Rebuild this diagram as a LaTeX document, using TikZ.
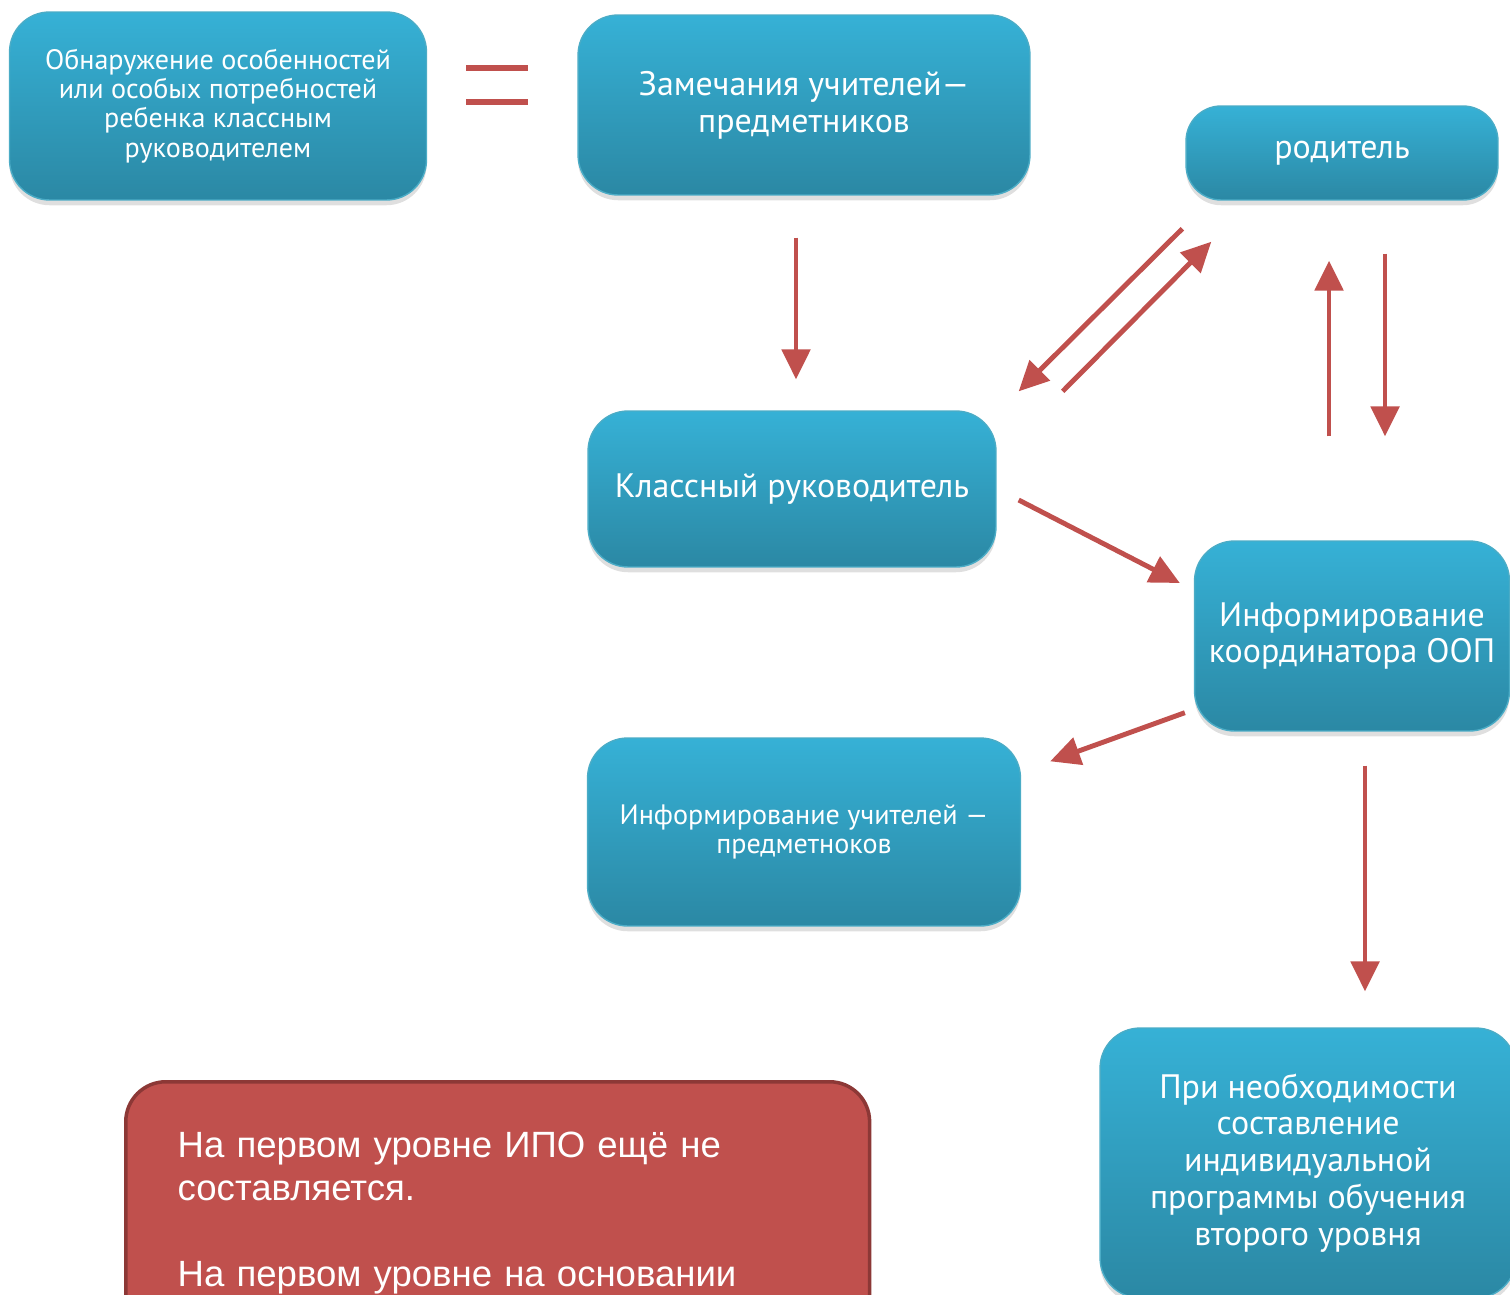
\documentclass[tikz,border=0pt]{standalone}
\usepackage{fontspec}
\setmainfont{PT Sans}
\newfontfamily\notefont{Liberation Sans}
\usetikzlibrary{arrows.meta,shadows,calc}

\definecolor{boxtop}{RGB}{54,177,214}
\definecolor{boxbot}{RGB}{43,136,164}
\definecolor{boxline}{RGB}{75,172,198}
\definecolor{arrowred}{RGB}{192,80,77}
\definecolor{noteline}{RGB}{140,56,54}

\begin{document}
\begin{tikzpicture}[x=0.02cm,y=-0.02cm,
        every node/.style = {align=center, text=white},
        stage/.style = {rounded corners=0.8cm, draw=boxline, line width=0.8pt,
            top color=boxtop, bottom color=boxbot,
            drop shadow={opacity=0.25, shadow xshift=0pt, shadow yshift=-3pt}},
        bigtext/.style = {font=\fontsize{19.3}{21}\selectfont},
        smalltext/.style = {font=\fontsize{16}{16.7}\selectfont},
        arr/.style = {draw=arrowred, line width=2.8pt,
            -{Triangle[width=16pt,length=17pt]}},
        note/.style = {rounded corners=0.8cm, draw=noteline, line width=2pt,
            fill=arrowred, align=left, anchor=north west,
            font=\notefont\fontsize{20.8}{24.4}\selectfont}]
    \useasboundingbox (0,0) rectangle (1510,1294);
    \clip (0,0) rectangle (1510,1294);

    % blue stages
    \node[stage, smalltext, minimum width=8.34cm, minimum height=3.76cm]
        (obn) at (218,106) {Обнаружение особенностей\\или особых потребностей\\ребенка классным\\руководителем};
    \node[stage, bigtext, minimum width=9.04cm, minimum height=3.6cm]
        (zam) at (804,105) {Замечания учителей—\\предметников};
    \node[stage, bigtext, minimum width=6.24cm, minimum height=1.88cm, rounded corners=0.7cm]
        (rod) at (1342,153) {родитель};
    \node[stage, bigtext, minimum width=8.16cm, minimum height=3.12cm]
        (klass) at (792,489) {Классный руководитель};
    \node[stage, bigtext, minimum width=6.3cm, minimum height=3.8cm]
        (infk) at (1352,636) {Информирование\\координатора ООП};
    \node[stage, smalltext, minimum width=8.66cm, minimum height=3.76cm]
        (infuch) at (804,832) {Информирование учителей —\\предметноков};
    \node[stage, bigtext, minimum width=8.32cm, minimum height=5.4cm]
        (pri) at (1308,1163) {При необходимости\\составление\\индивидуальной\\программы обучения\\второго уровня};

    % note
    \node[note, text width=12.8cm, inner xsep=1.04cm, inner ysep=1.01cm]
        (ipo) at (124,1080) {На первом уровне ИПО ещё не\\составляется.\\[24.4pt]На первом уровне на основании};

    % equals sign
    \draw[arrowred, line width=3.4pt] (466,68) -- (528,68);
    \draw[arrowred, line width=3.4pt] (466,102) -- (528,102);

    % arrows
    \draw[arr] ($(zam.south)+(-8,42)$) -- ($(klass.north)+(4,-31)$);
    \draw[arr] ($(rod.south west)+(-3,28)$) -- ($(klass.north east)+(22,-19)$);
    \draw[arr] ($(klass.north east)+(66,-19)$) -- ($(rod.south west)+(26,41)$);
    \draw[arr] ($(infk.north)+(-23,-104)$) -- ($(rod.south)+(-13,60)$);
    \draw[arr] ($(rod.south)+(43,53)$) -- ($(infk.north)+(33,-104)$);
    \draw[arr] ($(klass.east)+(22,11)$) -- ($(infk.west)+(-14,-53)$);
    \draw[arr] ($(infk.south west)+(-9,-19)$) -- ($(infuch.north east)+(29,24)$);
    \draw[arr] ($(infk.south)+(13,34)$) -- ($(pri.north)+(57,-36)$);
\end{tikzpicture}
\end{document}
